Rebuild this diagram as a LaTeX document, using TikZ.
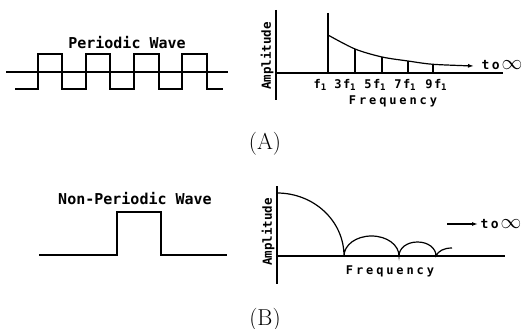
\documentclass[tikz,border=0pt]{standalone}
\usepackage{fontspec}
\newfontfamily\tw{DejaVu Sans Mono}
\usetikzlibrary{arrows.meta}
\newcommand\subone{\raisebox{-2.5pt}{\fontsize{9}{9}\selectfont 1}}
\newcommand\toinf{t\hspace{2.5pt}o\hspace{2pt}{\fontsize{22}{22}\selectfont$\infty$}}
\begin{document}
\begin{tikzpicture}[x=1pt,y=-1pt,
  wave/.style={line width=1.6pt, line join=miter},
  axis/.style={line width=1.3pt},
  harm/.style={line width=1.2pt},
  curve/.style={line width=1.2pt},
  tip/.style={-{Latex[length=6pt,width=4pt]}},
  title/.style={inner sep=0pt, font=\tw\bfseries\fontsize{15}{15}\selectfont},
  amp/.style={inner sep=0pt, rotate=90, font=\tw\bfseries\fontsize{12.5}{12.5}\selectfont},
  freq/.style={inner sep=0pt, font=\tw\bfseries\fontsize{12}{12}\selectfont\addfontfeature{LetterSpace=24}},
  flab/.style={inner sep=0pt, font=\tw\bfseries\fontsize{12}{12}\selectfont\addfontfeature{LetterSpace=12}},
  inf/.style={inner sep=0pt, font=\tw\bfseries\fontsize{13}{13}\selectfont},
  tag/.style={inner sep=0pt, font=\fontsize{23}{23}\selectfont}
]
\useasboundingbox (0,0) rectangle (522,329);

% ---------- (A) periodic wave ----------
\node[title] (ptitle) at (127,43) {Periodic Wave};
\draw[axis] (6,72) -- (228,72);
\draw[wave] (15,89) -- (38,89) -- (38,54) -- (62,54) -- (62,89) -- (86,89) -- (86,54)
  -- (110,54) -- (110,89) -- (134,89) -- (134,54) -- (159,54) -- (159,89) -- (182,89)
  -- (182,54) -- (207,54) -- (207,89) -- (223,89);

% ---------- (A) spectrum ----------
\draw[axis] (276,10) -- (276,100);
\draw[axis] (276,73) -- (503,73);
\draw[harm] (328,13) -- (328,73);
\draw[harm] (355,49) -- (355,73);
\draw[harm] (382,57) -- (382,73);
\draw[harm] (408,61) -- (408,73);
\draw[harm] (433,64) -- (433,73);
\coordinate (aend) at (474,66);
\draw[curve,tip] plot[smooth] coordinates {(328,35) (355,49) (382,57) (408,61) (433,64.3) (474,66)};
\node[amp] (ampA) at (267,56) {Amplitude};
\node[flab] (f1) at (320,85) {f\subone};
\node[flab] (f3) at (345,85) {3f\subone};
\node[flab] (f5) at (375,85) {5f\subone};
\node[flab] (f7) at (405,85) {7f\subone};
\node[flab] (f9) at (436,85) {9f\subone};
\node[freq] (freqA) at (393,101) {Frequency};
\node[inf] (infA) at (502,65) {\toinf};
\node[tag] (labA) at (265,144) {(A)};

% ---------- (B) non-periodic wave ----------
\node[title] (ntitle) at (135,199) {Non-Periodic Wave};
\draw[wave] (39,255) -- (117,255) -- (117,212) -- (161,212) -- (161,255) -- (227,255);

% ---------- (B) spectrum ----------
\draw[axis] (277,186) -- (277,284);
\draw[axis] (277,256) -- (505,256);
\draw[curve] (277,193) .. controls (314,193) and (344,221) .. (344,256)
  .. controls (344,245) and (356,236) .. (371.5,236)
  .. controls (387,236) and (399,245) .. (399,256)
  .. controls (399,248) and (407,242) .. (417.5,242)
  .. controls (428,242) and (436,248) .. (436,256)
  .. controls (438,251) and (444,248) .. (452,248);
\coordinate (bstart) at (447,224);
\coordinate (bend) at (478,224);
\draw[curve,tip] (bstart) -- (bend);
\node[amp] (ampB) at (268,232) {Amplitude};
\node[freq] (freqB) at (390,271) {Frequency};
\node[inf] (infB) at (501,224) {\toinf};
\node[tag] (labB) at (265,320) {(B)};
\end{tikzpicture}
\end{document}
